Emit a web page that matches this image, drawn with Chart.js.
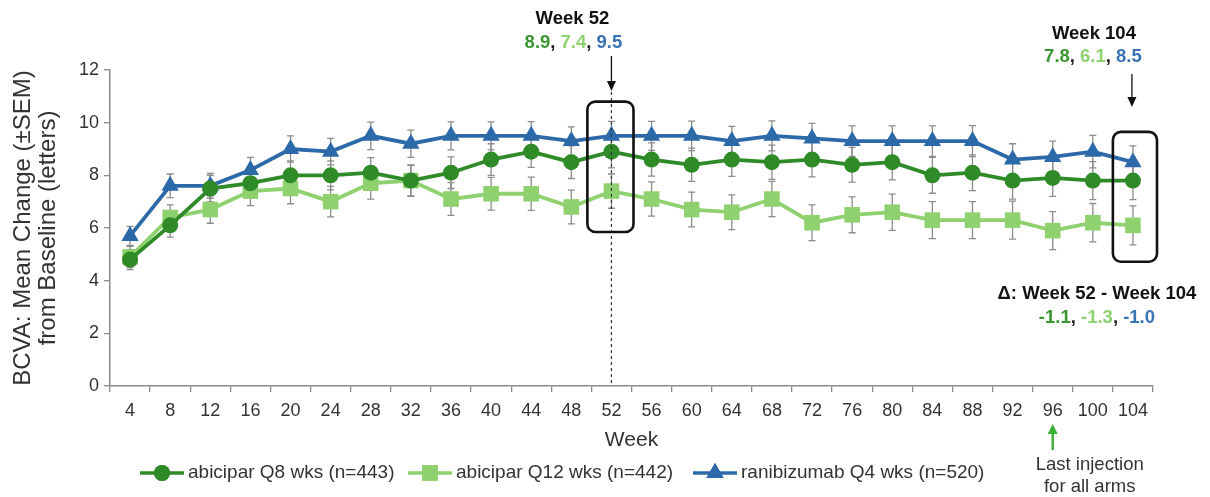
<!DOCTYPE html>
<html>
<head>
<meta charset="utf-8">
<script src="https://cdn.jsdelivr.net/npm/chart.js@4.4.1/dist/chart.umd.min.js"></script>
<style>
  html, body { margin: 0; padding: 0; background: #ffffff; }
  #wrap { width: 1210px; height: 497px; position: relative; }
</style>
</head>
<body>
<div id="wrap"><canvas id="c" width="1210" height="497"></canvas></div>
<script>
// Study weeks on the x axis
const weeks = ['4','8','12','16','20','24','28','32','36','40','44','48','52','56','60','64','68','72','76','80','84','88','92','96','100','104'];

// Mean BCVA change from baseline (letters)
const abiciparQ8 = [4.8,6.1,7.5,7.7,8.0,8.0,8.1,7.8,8.1,8.6,8.9,8.5,8.9,8.6,8.4,8.6,8.5,8.6,8.4,8.5,8.0,8.1,7.8,7.9,7.8,7.8];
const abiciparQ12 = [4.9,6.4,6.7,7.4,7.5,7.0,7.7,7.8,7.1,7.3,7.3,6.8,7.4,7.1,6.7,6.6,7.1,6.2,6.5,6.6,6.3,6.3,6.3,5.9,6.2,6.1];
const ranibizumabQ4 = [5.7,7.6,7.6,8.2,9.0,8.9,9.5,9.2,9.5,9.5,9.5,9.3,9.5,9.5,9.5,9.3,9.5,9.4,9.3,9.3,9.3,9.3,8.6,8.7,8.9,8.5];

// Standard error of the mean for each arm
const semQ8 = [0.38,0.45,0.5,0.52,0.55,0.55,0.57,0.58,0.6,0.6,0.6,0.62,0.62,0.63,0.63,0.64,0.65,0.66,0.66,0.67,0.68,0.68,0.7,0.7,0.72,0.72];
const semQ12 = [0.4,0.48,0.52,0.55,0.58,0.58,0.6,0.6,0.62,0.62,0.63,0.64,0.65,0.65,0.66,0.66,0.67,0.68,0.68,0.69,0.7,0.7,0.72,0.72,0.73,0.74];
const semQ4 = [0.36,0.45,0.47,0.48,0.5,0.5,0.52,0.52,0.53,0.53,0.54,0.54,0.55,0.55,0.56,0.56,0.57,0.57,0.58,0.58,0.58,0.59,0.6,0.6,0.62,0.62];

const seriesNames = ['abicipar Q8 wks (n=443)', 'abicipar Q12 wks (n=442)', 'ranibizumab Q4 wks (n=520)'];
const yTicks = [0, 2, 4, 6, 8, 10, 12];

// Highlighted time points and the numbers quoted for them
const week52Values = ['8.9', '7.4', '9.5'];
const week104Values = ['7.8', '6.1', '8.5'];
const deltaValues = ['-1.1', '-1.3', '-1.0'];

const DARK = '#2f8a28';
const LIGHT = '#8fd16e';
const BLUE = '#2c69a8';
const TEXT_COLORS = ['#3a962f', '#8fd16e', '#3a73b4'];
const FONT = '"Liberation Sans", Arial, sans-serif';

const semBySeries = [semQ8, semQ12, semQ4];

const errorBars = {
  id: 'errorBars',
  beforeDatasetsDraw(chart) {
    const { ctx, scales: { y } } = chart;
    ctx.save();
    ctx.strokeStyle = '#8c8c8c';
    ctx.lineWidth = 1.3;
    chart.data.datasets.forEach((ds, i) => {
      const meta = chart.getDatasetMeta(i);
      const sem = semBySeries[i];
      meta.data.forEach((pt, j) => {
        const v = ds.data[j];
        const top = y.getPixelForValue(v + sem[j]);
        const bot = y.getPixelForValue(v - sem[j]);
        ctx.beginPath();
        ctx.moveTo(pt.x, top); ctx.lineTo(pt.x, bot);
        ctx.moveTo(pt.x - 3.5, top); ctx.lineTo(pt.x + 3.5, top);
        ctx.moveTo(pt.x - 3.5, bot); ctx.lineTo(pt.x + 3.5, bot);
        ctx.stroke();
      });
    });
    ctx.restore();
  }
};

function roundRect(ctx, x0, y0, x1, y1, r) {
  ctx.beginPath();
  ctx.moveTo(x0 + r, y0);
  ctx.lineTo(x1 - r, y0);
  ctx.arcTo(x1, y0, x1, y0 + r, r);
  ctx.lineTo(x1, y1 - r);
  ctx.arcTo(x1, y1, x1 - r, y1, r);
  ctx.lineTo(x0 + r, y1);
  ctx.arcTo(x0, y1, x0, y1 - r, r);
  ctx.lineTo(x0, y0 + r);
  ctx.arcTo(x0, y0, x0 + r, y0, r);
  ctx.closePath();
  ctx.stroke();
}

function arrowDown(ctx, x, y0, y1, color, width, head) {
  ctx.save();
  ctx.strokeStyle = color; ctx.fillStyle = color; ctx.lineWidth = width;
  ctx.beginPath(); ctx.moveTo(x, y0); ctx.lineTo(x, y1 - head); ctx.stroke();
  ctx.beginPath();
  ctx.moveTo(x - head * 0.45, y1 - head); ctx.lineTo(x + head * 0.45, y1 - head); ctx.lineTo(x, y1);
  ctx.closePath(); ctx.fill();
  ctx.restore();
}

function arrowUp(ctx, x, y0, y1, color, width, head) {
  ctx.save();
  ctx.strokeStyle = color; ctx.fillStyle = color; ctx.lineWidth = width;
  ctx.beginPath(); ctx.moveTo(x, y0); ctx.lineTo(x, y1 + head); ctx.stroke();
  ctx.beginPath();
  ctx.moveTo(x - head * 0.5, y1 + head); ctx.lineTo(x + head * 0.5, y1 + head); ctx.lineTo(x, y1);
  ctx.closePath(); ctx.fill();
  ctx.restore();
}

// Draws "a, b, c" with each number in its series colour, centred on cx
function coloredList(ctx, values, cx, cy, font) {
  ctx.save();
  ctx.font = font;
  ctx.textBaseline = 'middle';
  ctx.textAlign = 'left';
  const parts = [];
  values.forEach((v, i) => {
    parts.push([v, TEXT_COLORS[i]]);
    if (i < values.length - 1) parts.push([', ', '#222222']);
  });
  const total = parts.reduce((s, p) => s + ctx.measureText(p[0]).width, 0);
  let x = cx - total / 2;
  parts.forEach(p => {
    ctx.fillStyle = p[1];
    ctx.fillText(p[0], x, cy);
    x += ctx.measureText(p[0]).width;
  });
  ctx.restore();
}

function centerText(ctx, text, cx, cy, font, color) {
  ctx.save();
  ctx.font = font; ctx.fillStyle = color;
  ctx.textAlign = 'center'; ctx.textBaseline = 'middle';
  ctx.fillText(text, cx, cy);
  ctx.restore();
}

const annotations = {
  id: 'annotations',
  afterDatasetsDraw(chart) {
    const { ctx, scales: { x, y } } = chart;
    const i52 = weeks.indexOf('52');
    const i104 = weeks.indexOf('104');
    const step = x.getPixelForValue(1) - x.getPixelForValue(0);
    const x52 = x.getPixelForValue(i52);
    const x104 = x.getPixelForValue(i104);

    // Week 52 reference line
    ctx.save();
    ctx.strokeStyle = '#333333';
    ctx.lineWidth = 1.2;
    ctx.setLineDash([3, 3]);
    ctx.beginPath();
    ctx.moveTo(x52, 92);
    ctx.lineTo(x52, y.getPixelForValue(0));
    ctx.stroke();
    ctx.restore();

    // Boxes around the week 52 and week 104 readings
    ctx.save();
    ctx.strokeStyle = '#111111';
    ctx.lineWidth = 2.6;
    roundRect(ctx, x52 - step * 0.6, y.getPixelForValue(10.8), x52 + step * 0.55, y.getPixelForValue(5.85), 8);
    roundRect(ctx, x104 - step * 0.5, y.getPixelForValue(9.65), x104 + step * 0.6, y.getPixelForValue(4.72), 8);
    ctx.restore();

    const bold = 'bold 18.5px ' + FONT;
    centerText(ctx, 'Week 52', x52 - 39, 19, bold, '#111111');
    coloredList(ctx, week52Values, x52 - 38, 43, bold);
    arrowDown(ctx, x52, 56, 91, '#111111', 1.3, 10);

    centerText(ctx, 'Week 104', x104 - 39, 34, bold, '#111111');
    coloredList(ctx, week104Values, x104 - 40, 57, bold);
    arrowDown(ctx, x104 - 1, 74, 107, '#111111', 1.3, 10);

    centerText(ctx, '\u0394: Week 52 - Week 104', x104 - 36, 294, bold, '#111111');
    coloredList(ctx, deltaValues, x104 - 36, 318, bold);
  },
  afterDraw(chart) {
    const { ctx, chartArea, scales: { x } } = chart;
    // Axis titles
    ctx.save();
    ctx.fillStyle = '#333333';
    ctx.font = '24px ' + FONT;
    ctx.textAlign = 'center';
    ctx.textBaseline = 'middle';
    const midY = (chartArea.top + chartArea.bottom) / 2;
    ctx.translate(23, midY);
    ctx.rotate(-Math.PI / 2);
    ctx.fillText('BCVA: Mean Change (\u00b1SEM)', 0, 0);
    ctx.fillText('from Baseline (letters)', 0, 25);
    ctx.restore();
    centerText(ctx, 'Week', (chartArea.left + chartArea.right) / 2, 440, '21px ' + FONT, '#333333');

    // Last injection marker under week 96
    const x96 = x.getPixelForValue(weeks.indexOf('96'));
    arrowUp(ctx, x96, 450, 424, '#3cb034', 2.4, 10);
    centerText(ctx, 'Last injection', x96 + 37, 465, '18.5px ' + FONT, '#333333');
    centerText(ctx, 'for all arms', x96 + 37, 487, '18.5px ' + FONT, '#333333');

    // Legend: line sample with marker, then label
    const items = [
      { color: DARK, style: 'circle', r: 8, lx: 140 },
      { color: LIGHT, style: 'rect', r: 11, lx: 408 },
      { color: BLUE, style: 'triangle', r: 10, lx: 693 }
    ];
    const ly = 473;
    items.forEach((it, i) => {
      ctx.save();
      ctx.strokeStyle = it.color; ctx.lineWidth = 3.5;
      ctx.beginPath(); ctx.moveTo(it.lx, ly); ctx.lineTo(it.lx + 44, ly); ctx.stroke();
      ctx.restore();
      ctx.save();
      ctx.fillStyle = it.color;
      Chart.helpers.drawPoint(ctx, { pointStyle: it.style, radius: it.r, borderWidth: 0, rotation: 0 }, it.lx + 22, ly);
      ctx.fill();
      ctx.restore();
      ctx.save();
      ctx.font = '19px ' + FONT; ctx.fillStyle = '#333333';
      ctx.textAlign = 'left'; ctx.textBaseline = 'middle';
      ctx.fillText(seriesNames[i], it.lx + 48, ly);
      ctx.restore();
    });
  }
};

function seriesDataset(label, data, color, style, radius) {
  return {
    label, data,
    borderColor: color, backgroundColor: color,
    borderWidth: 3.8,
    pointStyle: style, pointRadius: radius, pointHoverRadius: radius,
    pointBorderWidth: 0, pointBackgroundColor: color,
    tension: 0
  };
}

new Chart(document.getElementById('c'), {
  type: 'line',
  data: {
    labels: weeks,
    datasets: [
      seriesDataset(seriesNames[0], abiciparQ8, DARK, 'circle', 8),
      seriesDataset(seriesNames[1], abiciparQ12, LIGHT, 'rect', 11),
      seriesDataset(seriesNames[2], ranibizumabQ4, BLUE, 'triangle', 10)
    ]
  },
  options: {
    responsive: false,
    animation: false,
    events: [],
    layout: { padding: { top: 70, right: 57, bottom: 0, left: 0 } },
    plugins: { legend: { display: false }, tooltip: { enabled: false } },
    scales: {
      x: {
        type: 'category',
        offset: true,
        grid: { display: true, offset: true, drawOnChartArea: false, drawTicks: true, tickLength: 6, color: '#8a8a8a', lineWidth: 1.3 },
        border: { display: true, color: '#8a8a8a', width: 1.5 },
        ticks: { color: '#333333', font: { family: FONT, size: 18 }, padding: 8, maxRotation: 0, autoSkip: false },
        afterFit(scale) { scale.height = 111; }
      },
      y: {
        min: 0, max: 12,
        afterBuildTicks(scale) { scale.ticks = yTicks.map(v => ({ value: v })); },
        grid: { display: true, drawOnChartArea: false, drawTicks: true, tickLength: 6, color: '#8a8a8a', lineWidth: 1.3 },
        border: { display: true, color: '#8a8a8a', width: 1.5 },
        ticks: { color: '#333333', font: { family: FONT, size: 18 }, padding: 5 },
        afterFit(scale) { scale.width = 110; }
      }
    }
  },
  plugins: [errorBars, annotations]
});
</script>
</body>
</html>
